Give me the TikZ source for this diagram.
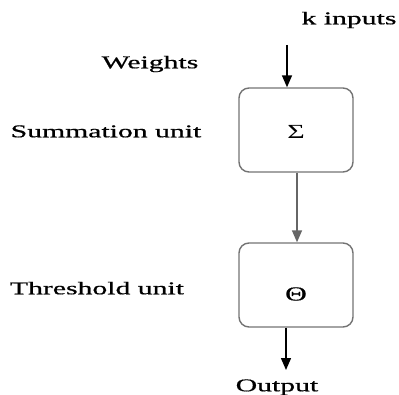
\documentclass[tikz,border=0pt]{standalone}
\usepackage{fontspec}
\setmainfont{Liberation Serif}
\newfontfamily\lblfont{Liberation Serif}[UprightFeatures={FakeBold=0.6}]
\usetikzlibrary{arrows.meta}
\newcommand{\wide}[1]{\scalebox{1.65}[1]{#1}}
\begin{document}
\begin{tikzpicture}[x=1pt,y=-1pt,
  lbl/.style={inner sep=0pt,font=\lblfont\fontsize{18}{20}\selectfont},
  sym/.style={inner sep=0pt,font=\fontsize{20}{22}\selectfont},
  unitbox/.style={draw=black!55,line width=1.4pt,rounded corners=10pt,
    minimum width=114pt,minimum height=84pt,inner sep=0pt},
  flow/.style={line width=1.5pt,-{Triangle[width=10pt,length=12pt]}}]
\useasboundingbox (0,0) rectangle (399,395);
% the two processing units
\node[unitbox] (sum) at (296,130) {};
\node[unitbox] (thr) at (296,285) {};
\node[sym] (sigma) at (296,132) {\scalebox{1.5}[1]{Σ}};
\node[sym,font=\lblfont\fontsize{20}{22}\selectfont] (theta) at (296,294) {\scalebox{1.5}[1]{Θ}};
% labels
\node[lbl,anchor=mid] (kin) at (349,22) {\wide{k inputs}};
\node[lbl,anchor=mid] (wts) at (150,66) {\wide{Weights}};
\node[lbl,anchor=mid] (sumlbl) at (106,135) {\wide{Summation unit}};
\node[lbl,anchor=mid] (thrlbl) at (97,292) {\wide{Threshold unit}};
\node[lbl,anchor=mid] (out) at (277,389) {\wide{Output}};
% connectors
\coordinate (inTop) at (287,45);
\coordinate (outEnd) at (286,370);
\draw[flow] (inTop) -- (inTop |- sum.north);
\draw[flow,draw=black!60] (sum.south -| 297,0) -- (thr.north -| 297,0);
\draw[flow] (thr.south -| outEnd) -- (outEnd);
\end{tikzpicture}
\end{document}
